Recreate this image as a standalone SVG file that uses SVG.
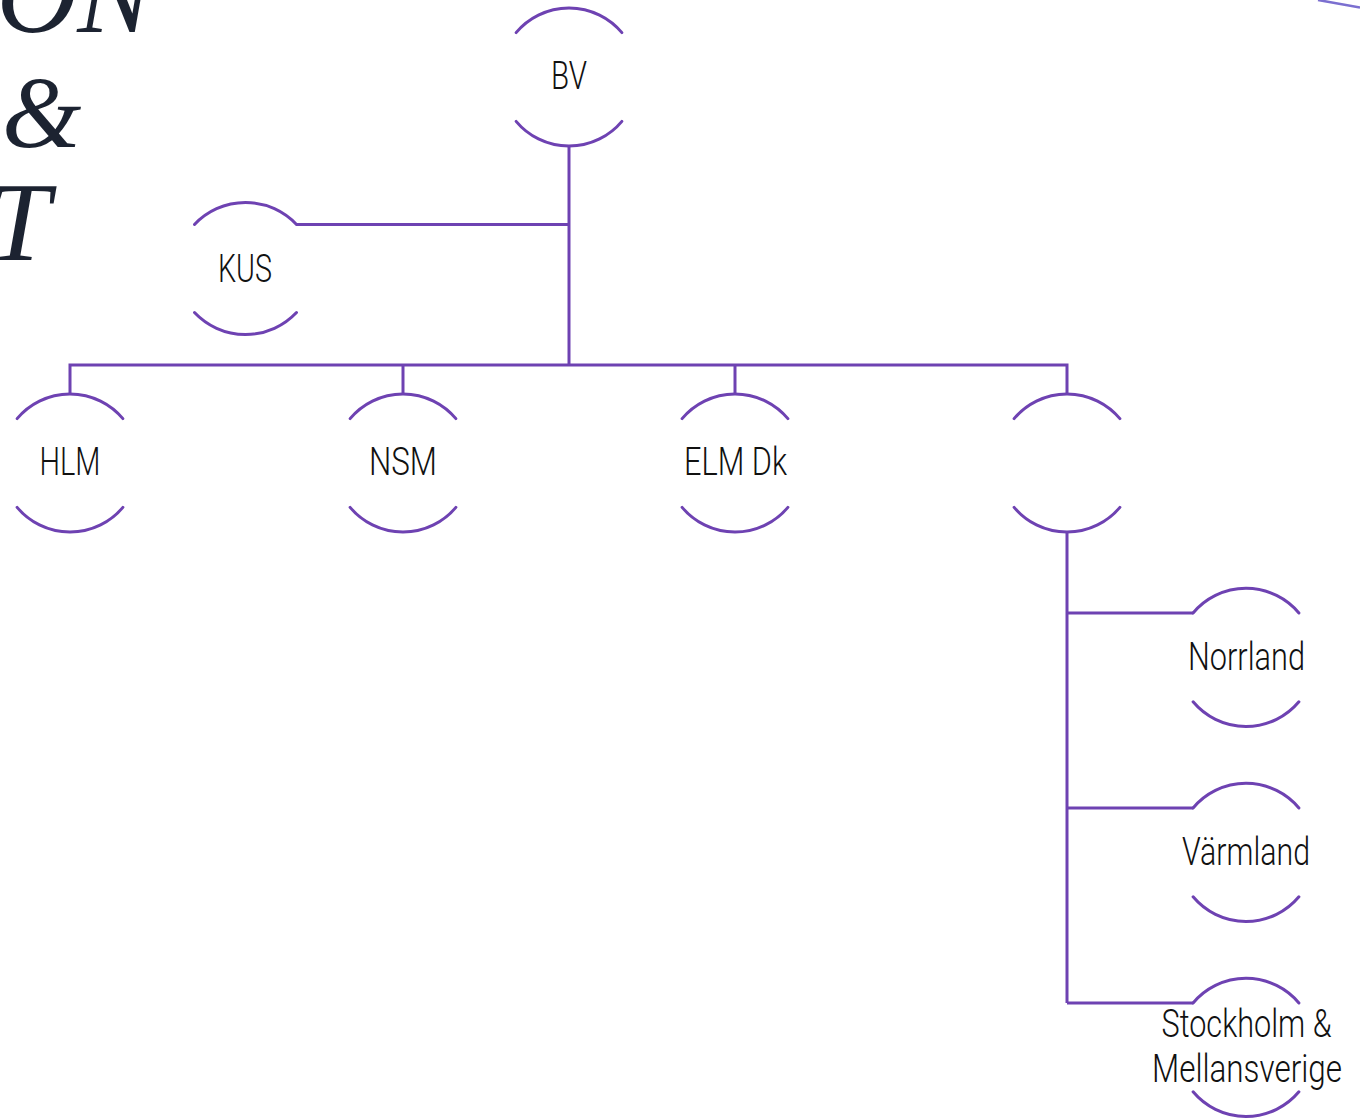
<svg xmlns="http://www.w3.org/2000/svg" width="1360" height="1120" viewBox="0 0 1360 1120">
  <style>
    .arc { fill: none; stroke: #6e42b2; stroke-width: 3; stroke-linecap: round; }
    .conn { fill: none; stroke: #6e42b2; stroke-width: 3; }
    .lbl { font-family: Roboto, "Liberation Sans", sans-serif; font-weight: 300; font-size: 38px; fill: #111111; text-anchor: middle; }
    .title { font-family: "Liberation Serif", "DejaVu Serif", serif; font-style: italic; font-weight: 300; font-size: 112px; fill: #1c2331; }
  </style>
  <rect width="1360" height="1120" fill="#ffffff"/>

  <g id="title">
    <text class="title" x="152" y="32" text-anchor="end">ON</text>
    <text class="title" x="2" y="147" style="font-size:102px">&amp;</text>
    <text class="title" x="50" y="260" text-anchor="end">T</text>
  </g>
  <line x1="1318" y1="0" x2="1360" y2="7.5" stroke="#7b6fd0" stroke-width="2.5"/>

  <g id="connectors">
    <path class="conn" d="M569 146 V365"/>
    <path class="conn" d="M296.5 224.5 H569"/>
    <path class="conn" d="M70 394 V365 H1067 V394"/>
    <path class="conn" d="M403 365 V394"/>
    <path class="conn" d="M735 365 V394"/>
    <path class="conn" d="M1067 532 V1003"/>
    <path class="conn" d="M1067 613 H1193"/>
    <path class="conn" d="M1067 808 H1193"/>
    <path class="conn" d="M1067 1003 H1193"/>
  </g>

  <g id="node-bv">
    <path class="arc" d="M516.1 32.6 A69 69 0 0 1 621.9 32.6"/>
    <path class="arc" d="M516.1 121.4 A69 69 0 0 0 621.9 121.4"/>
    <text class="lbl" x="569" y="89" textLength="36" lengthAdjust="spacingAndGlyphs">BV</text>
  </g>
  <g id="node-kus">
    <path class="arc" d="M194.5 224.5 A70 70 0 0 1 296.5 224.5"/>
    <path class="arc" d="M194.5 312.5 A70 70 0 0 0 296.5 312.5"/>
    <text class="lbl" x="245" y="282" textLength="54" lengthAdjust="spacingAndGlyphs">KUS</text>
  </g>
  <g id="node-hlm">
    <path class="arc" d="M17.1 418.6 A69 69 0 0 1 122.9 418.6"/>
    <path class="arc" d="M17.1 507.4 A69 69 0 0 0 122.9 507.4"/>
    <text class="lbl" x="70" y="475" textLength="61" lengthAdjust="spacingAndGlyphs">HLM</text>
  </g>
  <g id="node-nsm">
    <path class="arc" d="M350.1 418.6 A69 69 0 0 1 455.9 418.6"/>
    <path class="arc" d="M350.1 507.4 A69 69 0 0 0 455.9 507.4"/>
    <text class="lbl" x="403" y="475" textLength="68" lengthAdjust="spacingAndGlyphs">NSM</text>
  </g>
  <g id="node-elm">
    <path class="arc" d="M682.1 418.6 A69 69 0 0 1 787.9 418.6"/>
    <path class="arc" d="M682.1 507.4 A69 69 0 0 0 787.9 507.4"/>
    <text class="lbl" x="735.5" y="475" textLength="103" lengthAdjust="spacingAndGlyphs">ELM Dk</text>
  </g>
  <g id="node-blank">
    <path class="arc" d="M1014.1 418.6 A69 69 0 0 1 1119.9 418.6"/>
    <path class="arc" d="M1014.1 507.4 A69 69 0 0 0 1119.9 507.4"/>
  </g>
  <g id="node-norrland">
    <path class="arc" d="M1193.1 613 A69 69 0 0 1 1298.9 613"/>
    <path class="arc" d="M1193.1 701.8 A69 69 0 0 0 1298.9 701.8"/>
    <text class="lbl" x="1246.5" y="670" textLength="117" lengthAdjust="spacingAndGlyphs">Norrland</text>
  </g>
  <g id="node-varmland">
    <path class="arc" d="M1193.1 808 A69 69 0 0 1 1298.9 808"/>
    <path class="arc" d="M1193.1 896.8 A69 69 0 0 0 1298.9 896.8"/>
    <text class="lbl" x="1246" y="865" textLength="128" lengthAdjust="spacingAndGlyphs">Värmland</text>
  </g>
  <g id="node-stockholm">
    <path class="arc" d="M1193.1 1003 A69 69 0 0 1 1298.9 1003"/>
    <path class="arc" d="M1193.1 1091.8 A69 69 0 0 0 1298.9 1091.8"/>
    <text class="lbl" x="1246.5" y="1037" textLength="170" lengthAdjust="spacingAndGlyphs">Stockholm &amp;</text>
    <text class="lbl" x="1247" y="1082" textLength="190" lengthAdjust="spacingAndGlyphs">Mellansverige</text>
  </g>
</svg>
